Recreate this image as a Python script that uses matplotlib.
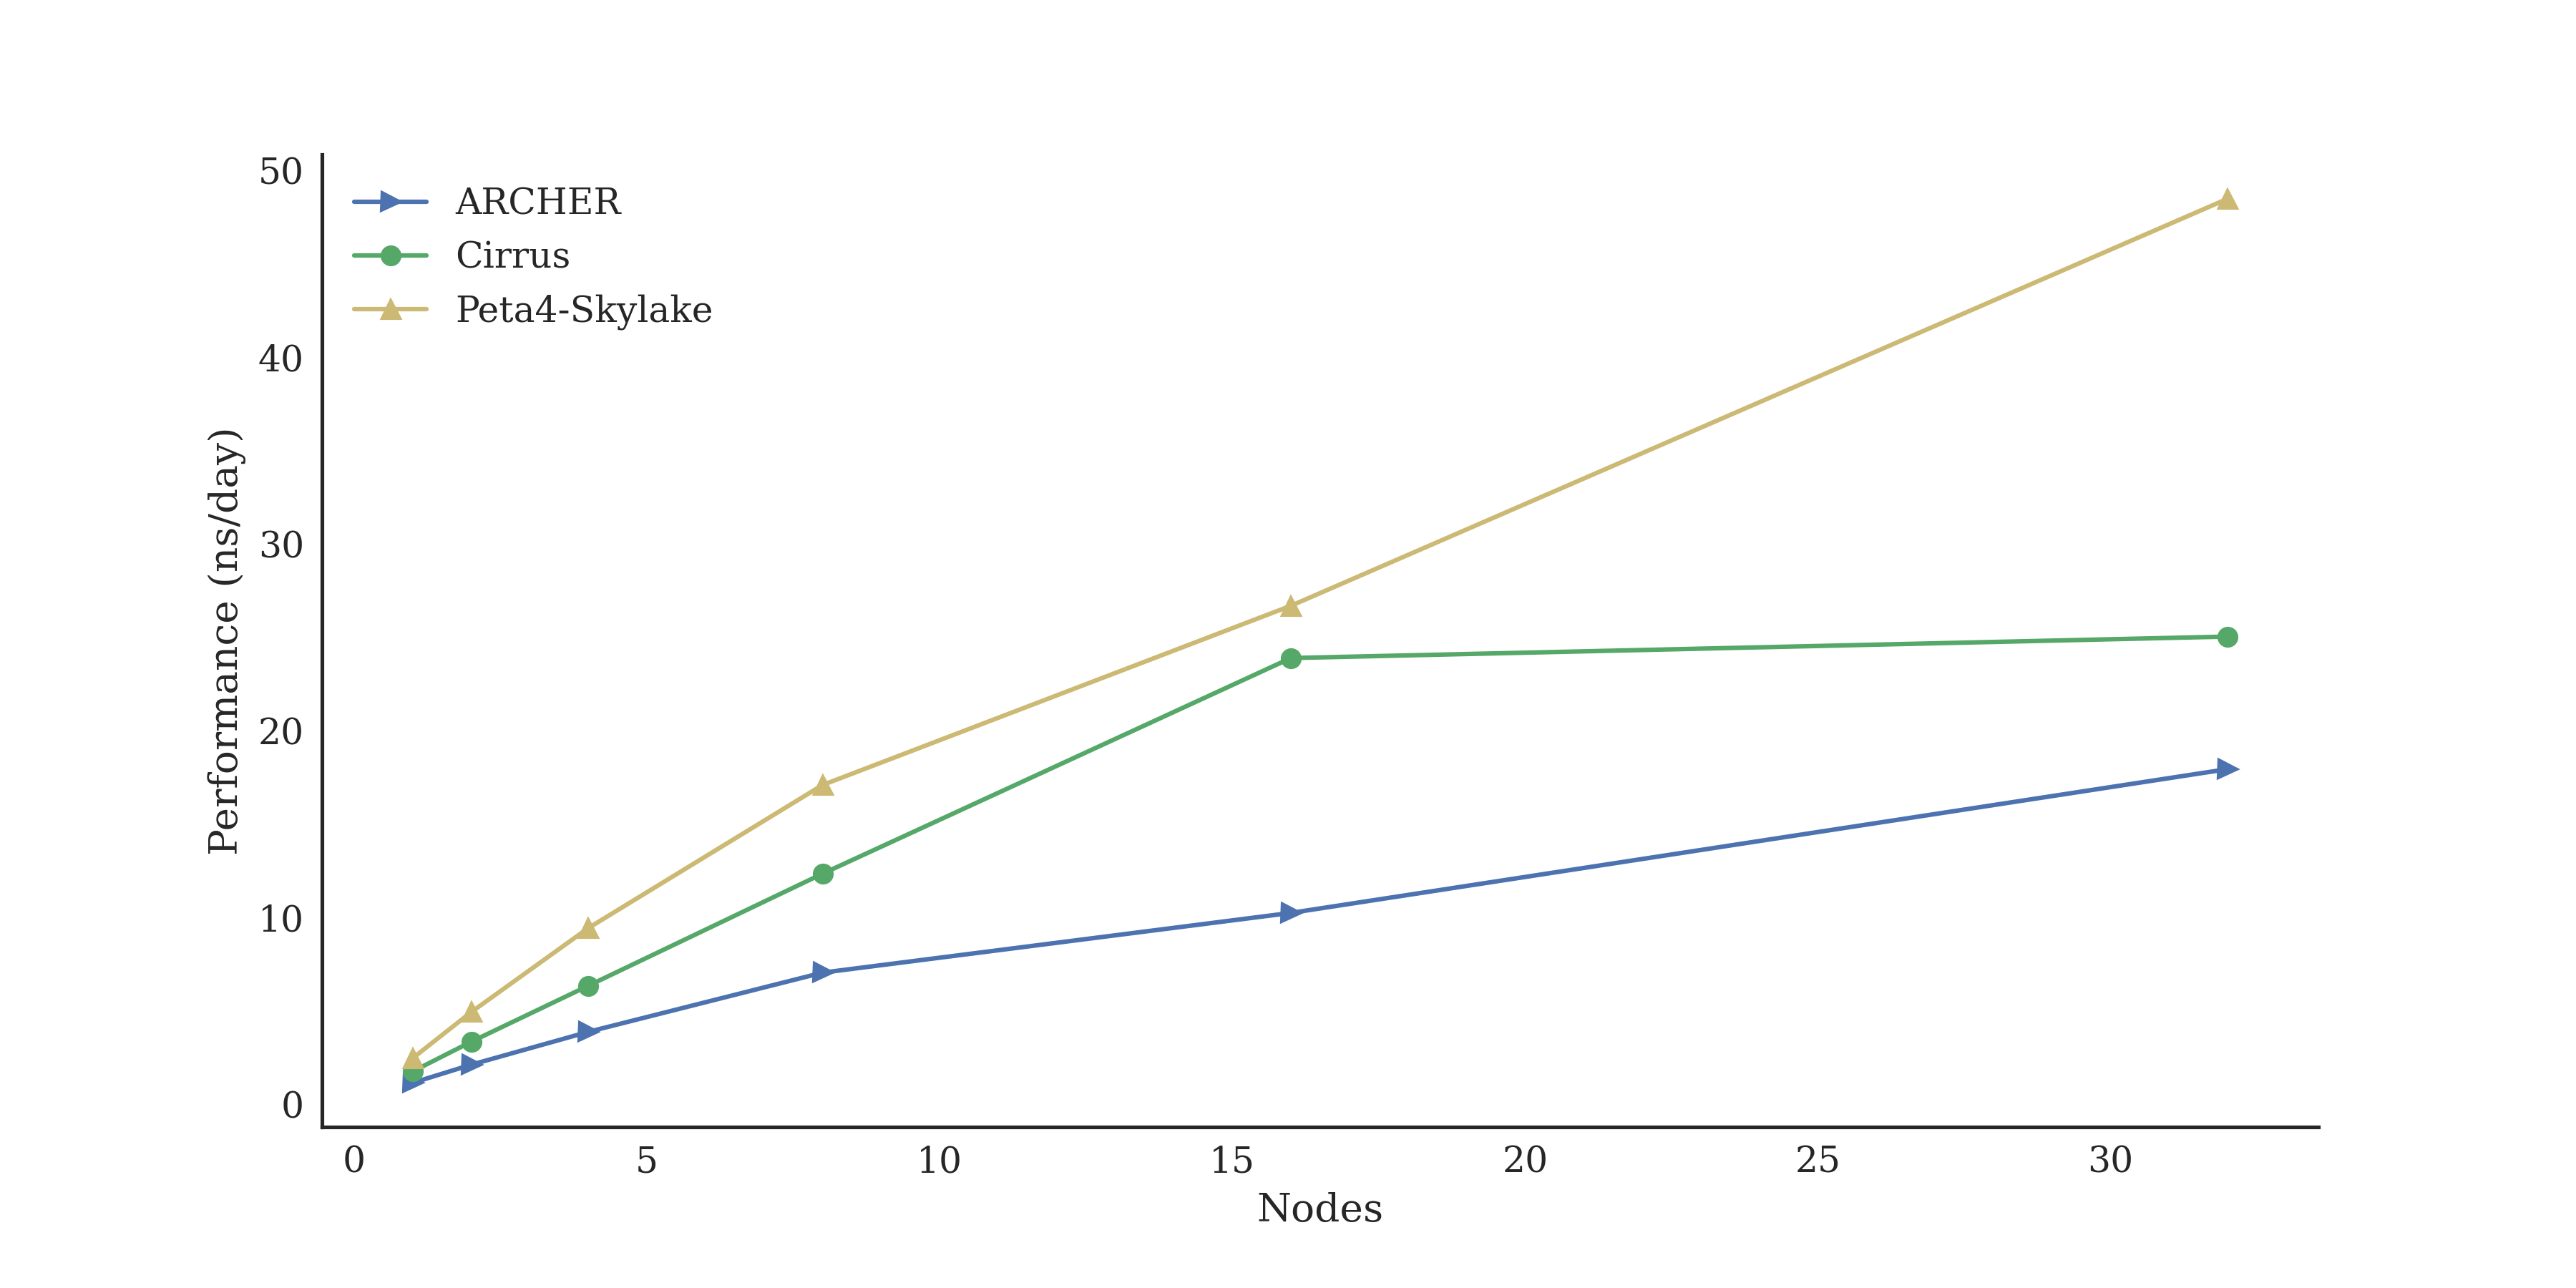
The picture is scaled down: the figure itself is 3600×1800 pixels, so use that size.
import numpy as np
import matplotlib
matplotlib.use("Agg")
import matplotlib.pyplot as plt
import seaborn as sns

sns.set_theme(style="white", context="notebook", font_scale=1.1)
plt.rcParams['font.family'] = ['DejaVu Serif']

nodes = [1, 2, 4, 8, 16, 32]
archer = [1.15, 2.12, 3.88, 7.05, 10.25, 17.95]
cirrus = [1.76, 3.35, 6.35, 12.35, 23.9, 25.05]
peta4  = [2.47, 4.94, 9.44, 17.1, 26.7, 48.5]

fig, ax = plt.subplots(figsize=(12, 6), dpi=300)
fig.subplots_adjust(left=0.125, right=0.9, bottom=0.125, top=0.88)
ax.plot(nodes, archer, marker='>', color='#4C72B0', label='ARCHER')
ax.plot(nodes, cirrus, marker='o', color='#55A868', label='Cirrus')
ax.plot(nodes, peta4,  marker='^', color='#CCB974', label='Peta4-Skylake')

ax.set_xlabel('Nodes')
ax.set_ylabel('Performance (ns/day)')
ax.tick_params(length=0, pad=6)
ax.legend(loc='upper left', frameon=False)
sns.despine()
for s in ['left', 'bottom']:
    ax.spines[s].set_color('#262626')
    ax.spines[s].set_linewidth(1.25)

fig.savefig('out.png', dpi=300)
